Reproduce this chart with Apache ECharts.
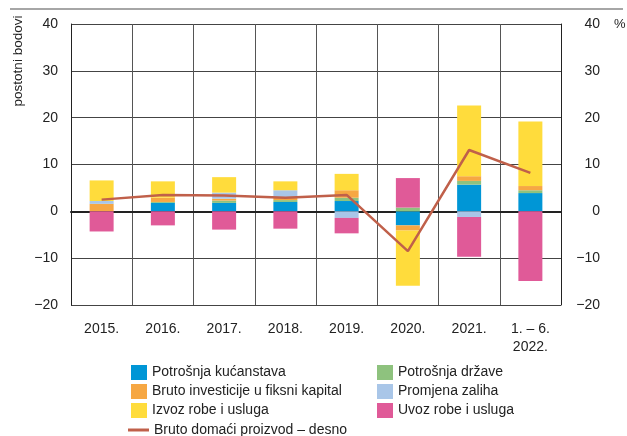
<!DOCTYPE html>
<html>
<head>
<meta charset="utf-8">
<script src="https://cdn.jsdelivr.net/npm/echarts@6/dist/echarts.min.js"></script>
<style>
  html, body { margin: 0; padding: 0; background: #fff; }
  #chart { width: 627px; height: 436px; }
</style>
</head>
<body>
<div id="chart"></div>
<script>
const categories = ['2015.', '2016.', '2017.', '2018.', '2019.', '2020.', '2021.', '1. – 6.\n2022.'];
const kucanstva = [0, 1.8, 1.8, 2.0, 2.2, -3.0, 5.7, 3.9];
const drzava = [0, 0.2, 0.5, 0.4, 0.7, 0.8, 0.8, 0.6];
const investicije = [1.6, 0.9, 0.4, 0.5, 1.6, -1.1, 1.0, 0.9];
const zalihe = [0.6, 0, 1.3, 1.6, -1.4, 0, -1.2, 0];
const izvoz = [4.4, 3.5, 3.3, 1.9, 3.5, -11.8, 15.1, 13.8];
const uvoz = [-4.3, -3.0, -3.9, -3.7, -3.3, 6.3, -8.5, -14.9];
const bdp = [2.5, 3.5, 3.4, 2.9, 3.5, -8.5, 13.1, 8.2];
const yTicks = [-20, -10, 0, 10, 20, 30, 40];

const font = 'Liberation Sans, Arial, sans-serif';
const chart = echarts.init(document.getElementById('chart'));

function barSeries(name, data, color) {
  return {
    name: name,
    type: 'bar',
    stack: 'doprinos',
    barWidth: 24,
    data: data,
    itemStyle: { color: color },
    emphasis: { disabled: true },
  };
}

const yAxisBase = {
  type: 'value',
  min: yTicks[0],
  max: yTicks[yTicks.length - 1],
  interval: 10,
  axisTick: { show: false },
  axisLine: { show: true, lineStyle: { color: '#222', width: 1 } },
  splitLine: { show: true, lineStyle: { color: '#444', width: 1 } },
};

const option = {
  animation: false,
  textStyle: { fontFamily: font },
  grid: { left: 71, right: 66, top: 24, bottom: 131 },
  xAxis: {
    type: 'category',
    data: categories,
    axisTick: { show: false },
    axisLine: { lineStyle: { color: '#222', width: 2 } },
    splitLine: { show: true, lineStyle: { color: '#555', width: 1 } },
    axisLabel: { color: '#222', fontSize: 14, margin: 15, lineHeight: 18, fontFamily: font },
  },
  yAxis: [
    Object.assign({}, yAxisBase, {
      position: 'left',
      axisLabel: { color: '#222', fontSize: 14, margin: 13, fontFamily: font,
        formatter: v => String(v).replace('-', '\u2212') },
    }),
    Object.assign({}, yAxisBase, {
      position: 'right',
      splitLine: { show: false },
      axisLabel: { color: '#222', fontSize: 14, margin: 39, align: 'right', fontFamily: font,
        formatter: v => String(v).replace('-', '\u2212') },
    }),
  ],
  legend: [
    {
      left: 131, top: 365, orient: 'vertical', padding: 0,
      itemWidth: 16, itemHeight: 15, itemGap: 4, icon: 'rect',
      textStyle: { fontSize: 14, color: '#222', fontFamily: font },
      data: ['Potrošnja kućanstava', 'Bruto investicije u fiksni kapital', 'Izvoz robe i usluga'],
    },
    {
      left: 377, top: 365, orient: 'vertical', padding: 0,
      itemWidth: 16, itemHeight: 15, itemGap: 4, icon: 'rect',
      textStyle: { fontSize: 14, color: '#222', fontFamily: font },
      data: ['Potrošnja države', 'Promjena zaliha', 'Uvoz robe i usluga'],
    },
    {
      left: 128, top: 423, orient: 'vertical', padding: 0,
      itemWidth: 21, itemHeight: 3, icon: 'rect',
      textStyle: { fontSize: 14, color: '#222', fontFamily: font },
      data: ['Bruto domaći proizvod – desno'],
    },
  ],
  graphic: [
    {
      type: 'line',
      shape: { x1: 10, y1: 9, x2: 623, y2: 9 },
      style: { stroke: '#888', lineWidth: 1.5 },
    },
    {
      type: 'text',
      x: 18, y: 61, rotation: Math.PI / 2,
      style: { text: 'postotni bodovi', fontSize: 13.5, fill: '#222', fontFamily: font,
        textAlign: 'center', textVerticalAlign: 'middle' },
    },
    {
      type: 'text',
      x: 614, y: 24,
      style: { text: '%', fontSize: 13, fill: '#222', fontFamily: font, textVerticalAlign: 'middle' },
    },
  ],
  series: [
    barSeries('Potrošnja kućanstava', kucanstva, '#0096d6'),
    barSeries('Potrošnja države', drzava, '#8ec27e'),
    barSeries('Bruto investicije u fiksni kapital', investicije, '#f6a743'),
    barSeries('Promjena zaliha', zalihe, '#a9c6e8'),
    barSeries('Izvoz robe i usluga', izvoz, '#ffdc3c'),
    barSeries('Uvoz robe i usluga', uvoz, '#e05a98'),
    {
      name: 'Bruto domaći proizvod – desno',
      type: 'line',
      yAxisIndex: 1,
      data: bdp,
      symbol: 'none',
      z: 5,
      itemStyle: { color: '#c0604a' },
      lineStyle: { color: '#c0604a', width: 2.5 },
      emphasis: { disabled: true },
    },
  ],
};

chart.setOption(option);
</script>
</body>
</html>
